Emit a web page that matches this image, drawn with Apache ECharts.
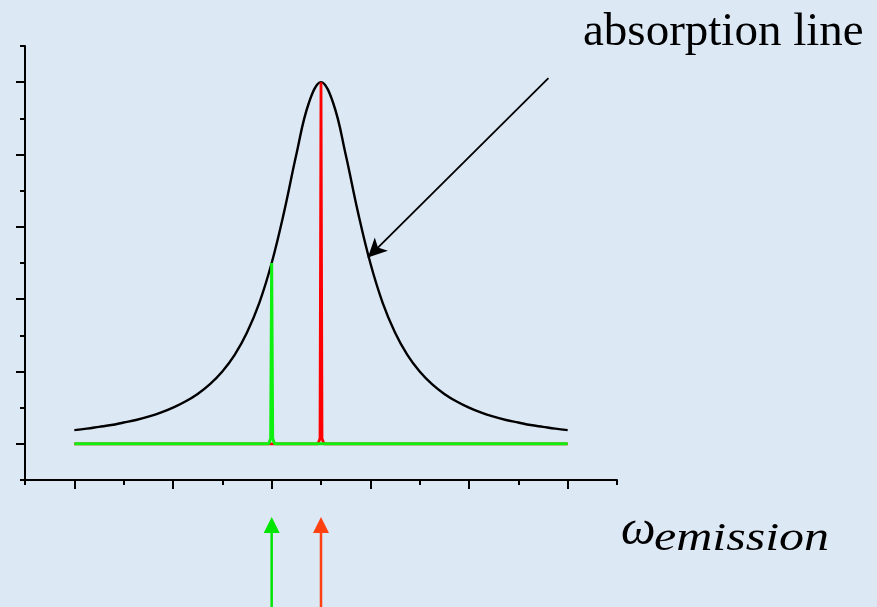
<!DOCTYPE html>
<html>
<head>
<meta charset="utf-8">
<script src="https://cdn.jsdelivr.net/npm/echarts@6/dist/echarts.min.js"></script>
<style>
  html, body { margin: 0; padding: 0; background: #dde8f5; }
  #chart { width: 877px; height: 607px; }
</style>
</head>
<body>
<div id="chart"></div>
<script>
// Absorption profile (black), sampled along the emission frequency axis
const absorptionX = [-5, -4.75, -4.5, -4.25, -4, -3.75, -3.5, -3.25, -3, -2.75, -2.5, -2.25, -2, -1.75, -1.5, -1.25, -1, -0.75, -0.5, -0.25, 0,
                     0.25, 0.5, 0.75, 1, 1.25, 1.5, 1.75, 2, 2.25, 2.5, 2.75, 3, 3.25, 3.5, 3.75, 4, 4.25, 4.5, 4.75, 5];
const absorptionY = [1.38, 1.42, 1.47, 1.52, 1.59, 1.66, 1.75, 1.86, 2.0, 2.17, 2.38, 2.65, 3.0, 3.46, 4.08, 4.9, 6.0, 7.4, 9.0, 10.41, 11.0,
                     10.41, 9.0, 7.4, 6.0, 4.9, 4.08, 3.46, 3.0, 2.65, 2.38, 2.17, 2.0, 1.86, 1.75, 1.66, 1.59, 1.52, 1.47, 1.42, 1.38];

// Narrow emission line at the absorption centre (red)
const resonantX = [-5, -0.06, -0.02, 0, 0.02, 0.06, 5];
const resonantY = [1, 1, 1.15, 11, 1.15, 1, 1];

// Narrow emission line detuned to the wing (green)
const detunedX = [-5, -1.06, -1.02, -1, -0.98, -0.94, 5];
const detunedY = [1, 1, 1.15, 6, 1.15, 1, 1];

// Pointer from the caption to the absorption curve: [start, tip]
const pointerFrom = [4.61, 11.11];
const pointerTo = [0.95, 6.15];

// Emission frequencies marked by the arrows under the axis
const markerX = [-1, 0];

// Axis ranges and tick positions
const xRange = [-6, 6];
const yRange = [0, 12];
const xMajorTicks = [-5, -3, -1, 1, 3, 5];
const yMajorTicks = [1, 3, 5, 7, 9, 11];

const zip = (xs, ys) => xs.map((x, i) => [x, ys[i]]);

const chart = echarts.init(document.getElementById('chart'), null, { renderer: 'canvas' });

const axisLine = { show: true, onZero: false, lineStyle: { color: '#000', width: 2 } };
const hidden = { show: false };
const tickStyle = { color: '#000', width: 2 };

const option = {
  animation: false,
  backgroundColor: '#dde8f5',
  grid: { left: 25, right: 260, top: 46, bottom: 127, containLabel: false },
  xAxis: [
    {
      type: 'value', min: xRange[0], max: xRange[1], interval: 1, position: 'bottom',
      axisLine: axisLine,
      axisTick: { show: true, length: 5, inside: false, lineStyle: tickStyle },
      axisLabel: hidden, splitLine: hidden
    },
    {
      type: 'value', min: xRange[0], max: xRange[1], interval: 1, position: 'bottom', offset: 0,
      axisLine: { show: false, onZero: false },
      axisTick: { show: true, length: 9, inside: false, customValues: xMajorTicks, lineStyle: tickStyle },
      axisLabel: { show: false, customValues: xMajorTicks }, splitLine: hidden
    }
  ],
  yAxis: [
    {
      type: 'value', min: yRange[0], max: yRange[1], interval: 1, position: 'left',
      axisLine: axisLine,
      axisTick: { show: true, length: 5, inside: false, lineStyle: tickStyle },
      axisLabel: hidden, splitLine: hidden
    },
    {
      type: 'value', min: yRange[0], max: yRange[1], interval: 1, position: 'left', offset: 0,
      axisLine: { show: false, onZero: false },
      axisTick: { show: true, length: 9, inside: false, customValues: yMajorTicks, lineStyle: tickStyle },
      axisLabel: { show: false, customValues: yMajorTicks }, splitLine: hidden
    }
  ],
  series: [
    {
      name: 'absorption', type: 'line', xAxisIndex: 0, yAxisIndex: 0,
      data: zip(absorptionX, absorptionY),
      smooth: 0.4, showSymbol: false, silent: true,
      lineStyle: { color: '#000', width: 2.4 },
      markLine: {
        silent: true, animation: false,
        symbol: ['none', 'arrow'], symbolSize: [14, 19],
        label: { show: false },
        lineStyle: { color: '#000', width: 1.8, type: 'solid' },
        data: [[{ coord: pointerFrom }, { coord: pointerTo }]]
      }
    },
    {
      name: 'resonant', type: 'line', xAxisIndex: 0, yAxisIndex: 0,
      data: zip(resonantX, resonantY),
      showSymbol: false, silent: true,
      lineStyle: { color: '#ff0000', width: 2.8 }
    },
    {
      name: 'detuned', type: 'line', xAxisIndex: 0, yAxisIndex: 0,
      data: zip(detunedX, detunedY),
      showSymbol: false, silent: true,
      lineStyle: { color: '#0ef00e', width: 3 }
    }
  ],
  graphic: [
    {
      type: 'text', left: 583, top: 9, silent: true,
      style: { text: 'absorption line', fill: '#000', font: '47px "Liberation Serif", "Times New Roman", serif' }
    },
    {
      type: 'text', left: 621, top: 507, silent: true,
      style: { text: 'ω', fill: '#000', font: 'italic 49px "Liberation Serif", serif' }
    },
    {
      // math-italic subscript, widened to the spacing of a math font
      type: 'text', x: 654, y: 519, scaleX: 1.22, silent: true,
      style: { text: 'emission', fill: '#000', align: 'left', verticalAlign: 'top',
               font: 'italic 41px "Liberation Serif", serif' }
    }
  ]
};

chart.setOption(option);

// Upward arrows below the axis at the two emission frequencies
const arrowColors = ['#00e600', '#ff4010'];
const arrowGraphics = [];
markerX.forEach((v, i) => {
  const px = chart.convertToPixel({ xAxisIndex: 0 }, v);
  arrowGraphics.push({
    type: 'line', silent: true,
    shape: { x1: px, y1: 607, x2: px, y2: 530 },
    style: { stroke: arrowColors[i], lineWidth: 2.5 }
  });
  arrowGraphics.push({
    type: 'polygon', silent: true,
    shape: { points: [[px, 517], [px - 8, 533], [px + 8, 533]] },
    style: { fill: arrowColors[i] }
  });
});
chart.setOption({ graphic: option.graphic.concat(arrowGraphics) });
</script>
</body>
</html>
